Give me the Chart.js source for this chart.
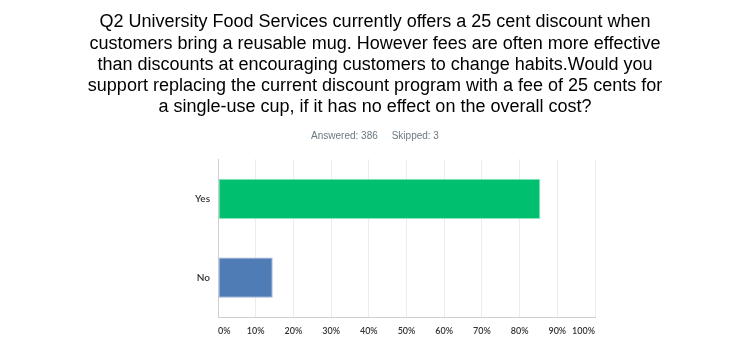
<!DOCTYPE html>
<html>
<head>
<meta charset="utf-8">
<script src="https://cdn.jsdelivr.net/npm/chart.js@4"></script>
<style>
  html, body { margin: 0; padding: 0; background: #fff; }
  #wrap { width: 750px; height: 344px; position: relative; }
</style>
</head>
<body>
<div id="wrap"><canvas id="c"></canvas></div>
<script>
const titleLines = [
  'Q2 University Food Services currently offers a 25 cent discount when',
  'customers bring a reusable mug. However fees are often more effective',
  'than discounts at encouraging customers to change habits.Would you',
  'support replacing the current discount program with a fee of 25 cents for',
  'a single-use cup, if it has no effect on the overall cost?'
];
const answered = 386;
const skipped = 3;
const categories = ['Yes', 'No'];
const percentages = [85.49, 14.51];
const tickMin = 0;
const tickMax = 100;
const tickStep = 10;

const barColors = ['#00BF6F', '#507CB6'];
const barBorders = ['#8ee4bd', '#9db5d8'];

new Chart(document.getElementById('c'), {
  type: 'bar',
  data: {
    labels: categories,
    datasets: [{
      data: percentages,
      backgroundColor: barColors,
      borderColor: barBorders,
      borderWidth: 1,
      borderSkipped: false,
      categoryPercentage: 1,
      barPercentage: 0.51
    }]
  },
  options: {
    indexAxis: 'y',
    responsive: true,
    maintainAspectRatio: false,
    animation: false,
    layout: { padding: { left: 0, right: 0, top: 12, bottom: 0 } },
    plugins: {
      legend: { display: false },
      tooltip: { enabled: false },
      title: {
        display: true,
        text: titleLines,
        color: '#000',
        font: { family: '"Liberation Sans", Arial, sans-serif', size: 18, weight: 'normal', lineHeight: 1.17 },
        padding: { top: 0, bottom: 6 }
      },
      subtitle: {
        display: true,
        text: 'Answered: ' + answered + '\u00a0\u00a0\u00a0\u00a0\u00a0Skipped: ' + skipped,
        color: '#6b787f',
        font: { family: '"Liberation Sans", Arial, sans-serif', size: 10, weight: 'normal' },
        padding: { top: 7, bottom: 17 }
      }
    },
    scales: {
      x: {
        min: tickMin,
        max: tickMax,
        ticks: {
          stepSize: tickStep,
          align: 'inner',
          padding: 8,
          color: '#333',
          font: { family: 'Lato, sans-serif', size: 9, weight: '600' },
          callback: v => v + '%'
        },
        grid: { color: '#ececec', drawTicks: false, lineWidth: 1 },
        border: { color: '#cfcfcf', width: 1 }
      },
      y: {
        ticks: {
          padding: 8,
          color: '#333',
          font: { family: 'Lato, sans-serif', size: 10, weight: '600' }
        },
        grid: { display: false, drawTicks: false },
        border: { color: '#cfcfcf', width: 1 },
        afterFit: s => { s.width = 218; }
      },
      spacer: {
        type: 'linear',
        position: 'right',
        display: true,
        ticks: { display: false },
        grid: { display: false, drawTicks: false },
        border: { display: false },
        afterFit: s => { s.width = 155; }
      }
    }
  }
});
</script>
</body>
</html>
